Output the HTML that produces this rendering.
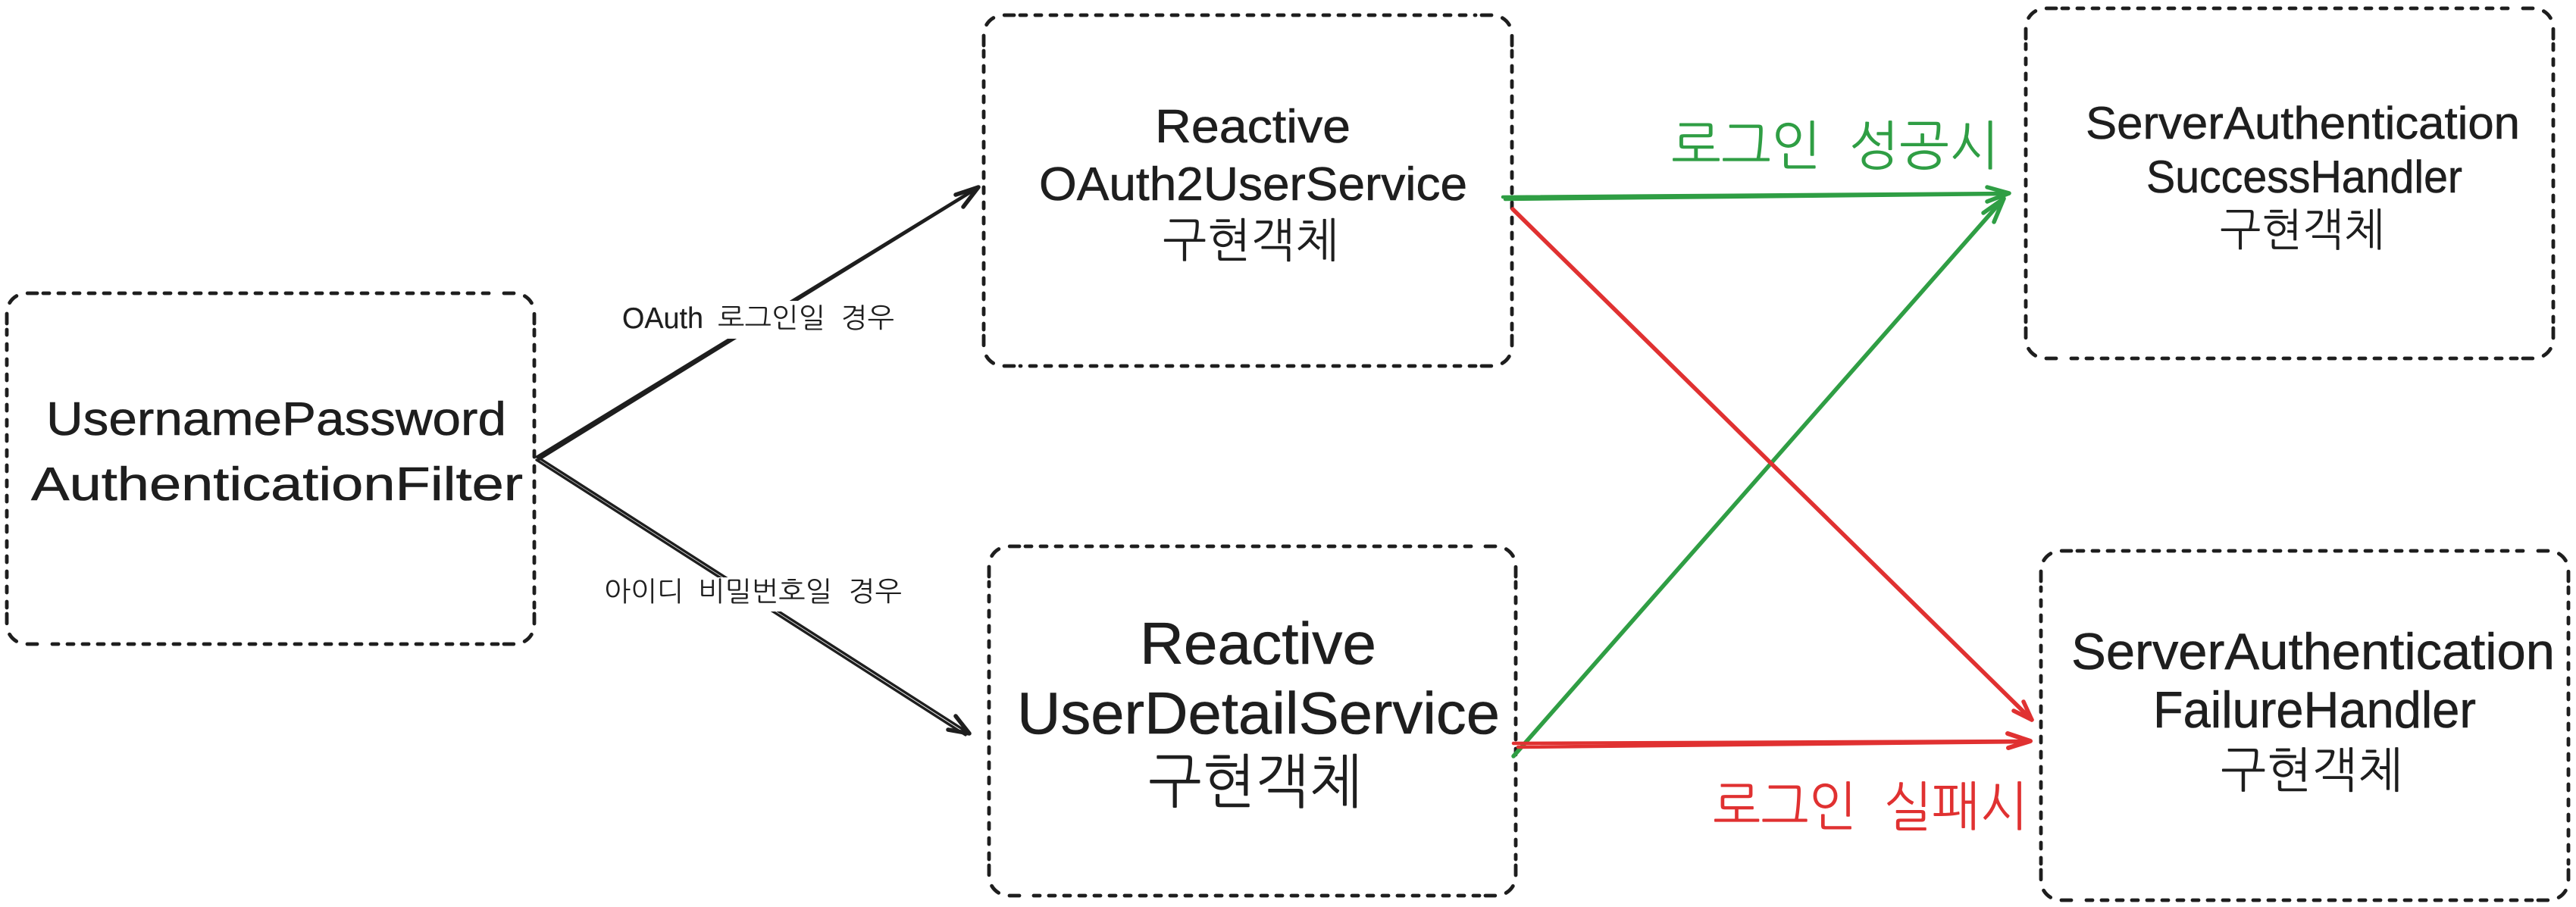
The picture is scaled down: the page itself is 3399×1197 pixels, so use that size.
<!DOCTYPE html>
<html lang="ko"><head><meta charset="utf-8"><title>Diagram</title>
<style>
html,body{margin:0;padding:0;background:#fff}
svg{display:block}
.l{font-family:"Liberation Sans",sans-serif;fill:#1e1e1e;stroke:#1e1e1e;stroke-width:.6}
.k{font-family:"NanumGothic","Noto Sans CJK KR",sans-serif;fill:#1e1e1e}
.e{fill:none;stroke:#1e1e1e;stroke-width:4.8;stroke-linecap:round;stroke-dasharray:8 12}
.c{fill:none;stroke:#1e1e1e;stroke-width:4.8;stroke-linecap:round;stroke-dasharray:13 15 13 15 13}
.a{fill:none;stroke-linecap:round;stroke-linejoin:round}
</style></head><body>
<svg xmlns="http://www.w3.org/2000/svg" width="3399" height="1197" viewBox="0 0 3399 1197">
<rect width="3399" height="1197" fill="#fff"/>

<!-- boxes -->
<path class="e" d="M57 387H657M705 435V802M657 850H57M9 802V435"/>
<path class="c" d="M9 427V413A26 26 0 0 1 35 387H49M665 387H679A26 26 0 0 1 705 413V427M705 810V824A26 26 0 0 1 679 850H665M49 850H35A26 26 0 0 1 9 824V810"/>
<path class="e" d="M1346 20H1947M1995 67V435M1947 483H1346M1298 435V67"/>
<path class="c" d="M1298 60V46A26 26 0 0 1 1324 20H1338M1955 20H1969A26 26 0 0 1 1995 46V60M1995 443V457A26 26 0 0 1 1969 483H1955M1338 483H1324A26 26 0 0 1 1298 457V443"/>
<path class="e" d="M2721 11H3321M3369 58V425M3321 473H2721M2673 425V58"/>
<path class="c" d="M2673 51V37A26 26 0 0 1 2699 11H2713M3329 11H3343A26 26 0 0 1 3369 37V51M3369 433V447A26 26 0 0 1 3343 473H3329M2713 473H2699A26 26 0 0 1 2673 447V433"/>
<path class="e" d="M1353 721H1952M2000 768V1134M1952 1182H1353M1305 1134V768"/>
<path class="c" d="M1305 761V747A26 26 0 0 1 1331 721H1345M1960 721H1974A26 26 0 0 1 2000 747V761M2000 1142V1156A26 26 0 0 1 1974 1182H1960M1345 1182H1331A26 26 0 0 1 1305 1156V1142"/>
<path class="e" d="M2741 727H3341M3389 775V1140M3341 1188H2741M2693 1140V775"/>
<path class="c" d="M2693 767V753A26 26 0 0 1 2719 727H2733M3349 727H3363A26 26 0 0 1 3389 753V767M3389 1148V1162A26 26 0 0 1 3363 1188H3349M2733 1188H2719A26 26 0 0 1 2693 1162V1148"/>

<!-- black arrows -->
<g class="a" stroke="#1e1e1e">
<path stroke-width="4.2" d="M709 603L1291 247"/>
<path stroke-width="4.2" d="M711 606L1285 251"/>
<path stroke-width="5.5" d="M1261 257L1291 247L1271 273"/>
<path stroke-width="3.4" d="M709 603L1279 968"/>
<path stroke-width="3.4" d="M708 607L1274 970"/>
<path stroke-width="5.5" d="M1261 945L1279 968L1251 963"/>
</g>
<rect x="780" y="397" width="420" height="50" fill="#fff"/>
<rect x="780" y="762" width="420" height="45" fill="#fff"/>

<!-- green arrows -->
<g class="a" stroke="#2f9e44">
<path stroke-width="4.5" d="M1983 260L2651 255"/>
<path stroke-width="4.5" d="M1986 263L2648 256"/>
<path stroke-width="5.5" d="M2622 247L2651 255L2622 266"/>
<path stroke-width="5.5" d="M1997 998L2644 262"/>
<path stroke-width="5.5" d="M2617 281L2644 262L2631 293"/>
</g>

<!-- red arrows -->
<g class="a" stroke="#e03131">
<path stroke-width="5.5" d="M1996 276L2681 950"/>
<path stroke-width="5.5" d="M2670 926L2681 950L2657 938"/>
<path stroke-width="4.5" d="M1997 981L2679 978"/>
<path stroke-width="4.5" d="M2003 986L2676 979"/>
<path stroke-width="6" d="M2649 968L2679 978L2650 987"/>
</g>

<!-- labels -->
<text class="l" x="61" y="574" font-size="62" textLength="607" lengthAdjust="spacingAndGlyphs">UsernamePassword</text>
<text class="l" x="41" y="660" font-size="62" textLength="649" lengthAdjust="spacingAndGlyphs">AuthenticationFilter</text>

<text class="l" x="1524" y="188" font-size="62" textLength="258" lengthAdjust="spacingAndGlyphs">Reactive</text>
<text class="l" x="1371" y="264" font-size="62" textLength="565" lengthAdjust="spacingAndGlyphs">OAuth2UserService</text>
<text class="k" x="1534" y="339" font-size="62" textLength="233" lengthAdjust="spacingAndGlyphs">구현객체</text>

<text class="l" x="2752" y="183" font-size="60" textLength="573" lengthAdjust="spacingAndGlyphs">ServerAuthentication</text>
<text class="l" x="2832" y="254" font-size="60" textLength="417" lengthAdjust="spacingAndGlyphs">SuccessHandler</text>
<text class="k" x="2929" y="324" font-size="59" textLength="218" lengthAdjust="spacingAndGlyphs">구현객체</text>

<text class="l" x="1504" y="876" font-size="78" textLength="312" lengthAdjust="spacingAndGlyphs">Reactive</text>
<text class="l" x="1342" y="968" font-size="78" textLength="637" lengthAdjust="spacingAndGlyphs">UserDetailService</text>
<text class="k" x="1515" y="1059" font-size="78" textLength="283" lengthAdjust="spacingAndGlyphs">구현객체</text>

<text class="l" x="2733" y="883" font-size="68" textLength="638" lengthAdjust="spacingAndGlyphs">ServerAuthentication</text>
<text class="l" x="2841" y="960" font-size="68" textLength="426" lengthAdjust="spacingAndGlyphs">FailureHandler</text>
<text class="k" x="2930" y="1039" font-size="64" textLength="241" lengthAdjust="spacingAndGlyphs">구현객체</text>

<g class="k">
<text x="2205" y="217" font-size="70" textLength="198" lengthAdjust="spacingAndGlyphs" style="fill:#2f9e44">로그인</text>
<text x="2440" y="217" font-size="70" textLength="198" lengthAdjust="spacingAndGlyphs" style="fill:#2f9e44">성공시</text>
</g>
<g class="k">
<text x="2260" y="1089" font-size="70" textLength="190" lengthAdjust="spacingAndGlyphs" style="fill:#e03131">로그인</text>
<text x="2486" y="1089" font-size="70" textLength="190" lengthAdjust="spacingAndGlyphs" style="fill:#e03131">실패시</text>
</g>

<text class="l" x="821" y="433" font-size="39" textLength="107" lengthAdjust="spacingAndGlyphs" style="stroke-width:.2">OAuth</text>
<g class="k" font-size="36">
<text x="947" y="432" textLength="142" lengthAdjust="spacingAndGlyphs">로그인일</text>
<text x="1109" y="432" textLength="71" lengthAdjust="spacingAndGlyphs">경우</text>
<text x="797" y="793" textLength="105" lengthAdjust="spacingAndGlyphs">아이디</text>
<text x="921" y="793" textLength="177" lengthAdjust="spacingAndGlyphs">비밀번호일</text>
<text x="1119" y="793" textLength="71" lengthAdjust="spacingAndGlyphs">경우</text>
</g>
</svg>
</body></html>
